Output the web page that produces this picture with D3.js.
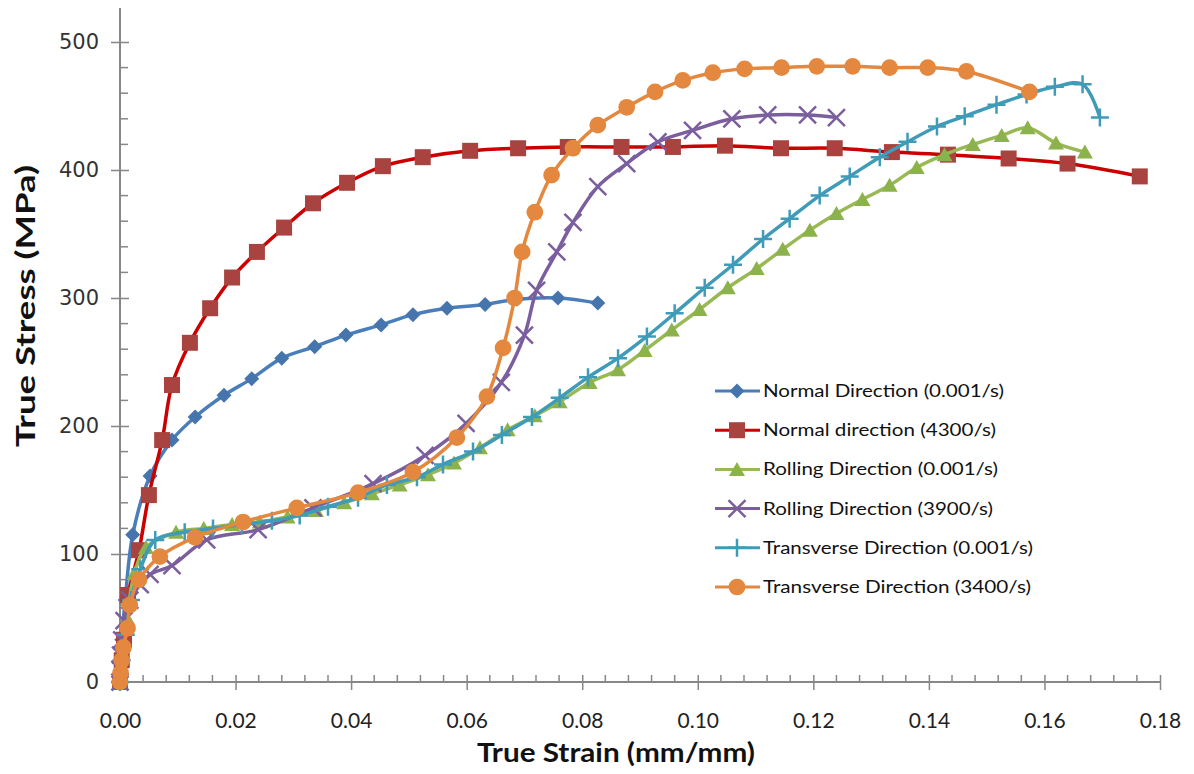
<!DOCTYPE html>
<html>
<head>
<meta charset="utf-8">
<script src="https://cdn.jsdelivr.net/npm/d3@7"></script>
<style>
  body { margin: 0; background: #fff; }
</style>
</head>
<body>
<script>
// strain / stress values
var ndSlowStrain = [0, 0.0003, 0.0009, 0.0022, 0.0052, 0.009, 0.013, 0.018, 0.0228, 0.028, 0.0337, 0.0391, 0.0452, 0.0507, 0.0566, 0.0632, 0.0687, 0.0758, 0.0827];
var ndSlowStress = [0, 33, 64, 115, 161, 189, 207, 224, 237, 253, 262, 271, 279, 287, 292, 295, 299, 300, 296];

var ndFastStrain = [0, 0.0003, 0.0007, 0.0014, 0.0033, 0.005, 0.0073, 0.009, 0.0121, 0.0156, 0.0194, 0.0237, 0.0284, 0.0334, 0.0393, 0.0455, 0.0524, 0.0606, 0.0689, 0.0775, 0.0868, 0.0957, 0.1047, 0.1144, 0.1237, 0.1336, 0.1433, 0.1538, 0.164, 0.1765];
var ndFastStress = [0, 17, 33, 68, 103, 146, 189, 232, 265, 292, 316, 336, 355, 374, 390, 403, 410, 415, 417, 418, 418, 418, 419, 417, 417, 414, 412, 409, 405, 395];

var rdSlowStrain = [0, 0.0004, 0.0012, 0.0025, 0.0045, 0.0097, 0.0145, 0.0194, 0.0242, 0.029, 0.0339, 0.0388, 0.0436, 0.0484, 0.0533, 0.0578, 0.0623, 0.0671, 0.0718, 0.0761, 0.0813, 0.0862, 0.0908, 0.0955, 0.1003, 0.1052, 0.1102, 0.1147, 0.1194, 0.124, 0.1285, 0.1332, 0.1379, 0.1427, 0.1476, 0.1526, 0.1571, 0.162, 0.167];
var rdSlowStress = [0, 20, 50, 85, 105, 117, 120, 123, 125, 129, 134, 140, 147, 154, 162, 171, 183, 197, 208, 219, 234, 244, 259, 275, 291, 308, 323, 338, 353, 366, 377, 388, 402, 412, 420, 427, 433, 421, 414];

var rdFastStrain = [0, 0.0000, 0.0001, 0.0003, 0.0007, 0.0017, 0.0035, 0.0052, 0.009, 0.015, 0.0239, 0.0334, 0.0438, 0.0528, 0.0599, 0.066, 0.07, 0.0721, 0.0756, 0.0784, 0.0827, 0.0877, 0.0931, 0.0991, 0.1059, 0.1121, 0.119, 0.124];
var rdFastStress = [0, 10, 21, 33, 48, 64, 76, 84, 91, 111, 119, 136, 155, 177, 202, 234, 271, 306, 336, 359, 387, 405, 422, 431, 440, 443, 443, 441];

var tdSlowStrain = [0, 0.0003, 0.001, 0.0019, 0.0035, 0.0061, 0.0112, 0.0161, 0.0211, 0.0263, 0.0311, 0.036, 0.0412, 0.0462, 0.0514, 0.0559, 0.0611, 0.0661, 0.0713, 0.0761, 0.081, 0.0862, 0.0912, 0.096, 0.1012, 0.1061, 0.1113, 0.1159, 0.1211, 0.1263, 0.1315, 0.1363, 0.1414, 0.1462, 0.1517, 0.1569, 0.1618, 0.1666, 0.1696];
var tdSlowStress = [0, 17, 37, 64, 88, 111, 117, 120, 123, 126, 130, 137, 144, 154, 160, 170, 180, 193, 207, 222, 238, 253, 270, 288, 308, 326, 346, 362, 380, 395, 410, 422, 434, 442, 451, 459, 465, 467, 441];

var tdFastStrain = [0, 0.0001, 0.0003, 0.0006, 0.0013, 0.0017, 0.0033, 0.0069, 0.013, 0.0213, 0.0306, 0.0412, 0.0507, 0.0583, 0.0635, 0.0663, 0.0683, 0.0696, 0.0718, 0.0747, 0.0784, 0.0827, 0.0877, 0.0926, 0.0974, 0.1026, 0.1081, 0.1145, 0.1206, 0.1268, 0.1332, 0.1398, 0.1465, 0.1574];
var tdFastStress = [0, 7, 17, 27, 42, 60, 80, 98, 113, 125, 136, 148, 164, 191, 223, 261, 300, 336, 367, 396, 417, 435, 449, 461, 470, 476, 479, 480, 481, 481, 480, 480, 477, 461];

var seriesNames = ["Normal Direction (0.001/s)", "Normal direction (4300/s)", "Rolling Direction (0.001/s)",
                   "Rolling Direction (3900/s)", "Transverse Direction (0.001/s)", "Transverse Direction (3400/s)"];
var xTicks = [0, 0.02, 0.04, 0.06, 0.08, 0.10, 0.12, 0.14, 0.16, 0.18];
var yTicks = [0, 100, 200, 300, 400, 500];

var series = [
  { name: seriesNames[0], x: ndSlowStrain, y: ndSlowStress, line: "#4a7ebb", mark: "#4675ad", shape: "diamond" },
  { name: seriesNames[1], x: ndFastStrain, y: ndFastStress, line: "#cc0000", mark: "#a8433f", shape: "square" },
  { name: seriesNames[2], x: rdSlowStrain, y: rdSlowStress, line: "#98b954", mark: "#8cb24b", shape: "triangle" },
  { name: seriesNames[3], x: rdFastStrain, y: rdFastStress, line: "#7b5e9e", mark: "#7b5e9e", shape: "x" },
  { name: seriesNames[4], x: tdSlowStrain, y: tdSlowStress, line: "#3f9bb8", mark: "#3f9bb8", shape: "plus" },
  { name: seriesNames[5], x: tdFastStrain, y: tdFastStress, line: "#e3883e", mark: "#e3883e", shape: "circle" }
];

var width = 1194;
var height = 774;

var x = d3.scaleLinear().domain([0, 0.18]).range([120, 1160]);
var y = d3.scaleLinear().domain([0, 500]).range([682, 42]);

var svg = d3.select("body").append("svg")
    .attr("width", width)
    .attr("height", height);

svg.append("rect").attr("width", width).attr("height", height).attr("fill", "#fff");

var axisColor = "#878787";

// minor ticks
var xMinor = d3.range(0, 0.1801, 0.004).filter(function(v) { return Math.abs(v / 0.02 - Math.round(v / 0.02)) > 1e-6; });
var yMinor = d3.range(0, 501, 20).filter(function(v) { return v % 100 != 0; });

var gx = svg.append("g").attr("transform", "translate(0,682)")
    .call(d3.axisBottom(x).tickValues(xTicks).tickSize(8).tickPadding(23).tickFormat(d3.format(".2f")));
gx.selectAll("line").attr("y1", -7).attr("stroke", axisColor).attr("stroke-width", 1.5);
gx.select(".domain").attr("stroke", axisColor).attr("stroke-width", 2).attr("d", "M120,0H1160");
gx.selectAll("text")
    .attr("fill", "#222")
    .style("font-family", "Lato, 'Open Sans', sans-serif")
    .style("font-size", "21px");

svg.append("g").selectAll("line").data(xMinor).enter().append("line")
    .attr("x1", function(d) { return x(d); }).attr("x2", function(d) { return x(d); })
    .attr("y1", 682).attr("y2", 675)
    .attr("stroke", axisColor).attr("stroke-width", 1.5);

var gy = svg.append("g").attr("transform", "translate(120,0)")
    .call(d3.axisLeft(y).tickValues(yTicks).tickSize(9).tickPadding(12));
gy.selectAll("line").attr("x1", 9).attr("stroke", axisColor).attr("stroke-width", 1.5);
gy.select(".domain").attr("stroke", axisColor).attr("stroke-width", 2).attr("d", "M0,8V682");
gy.selectAll("text")
    .attr("fill", "#333")
    .style("font-family", "'DejaVu Sans', Verdana, sans-serif")
    .style("font-size", "21px");

svg.append("g").selectAll("line").data(yMinor).enter().append("line")
    .attr("x1", 120).attr("x2", 128)
    .attr("y1", function(d) { return y(d); }).attr("y2", function(d) { return y(d); })
    .attr("stroke", axisColor).attr("stroke-width", 1.5);

// axis titles
svg.append("text")
    .attr("transform", "translate(35,306) rotate(-90)")
    .attr("text-anchor", "middle")
    .attr("textLength", 282).attr("lengthAdjust", "spacingAndGlyphs")
    .style("font-family", "Lato, 'Open Sans', sans-serif")
    .style("font-weight", "bold").style("font-size", "27px")
    .attr("fill", "#111")
    .text("True Stress (MPa)");

svg.append("text")
    .attr("x", 616).attr("y", 762)
    .attr("text-anchor", "middle")
    .attr("textLength", 278).attr("lengthAdjust", "spacingAndGlyphs")
    .style("font-family", "Lato, 'Open Sans', sans-serif")
    .style("font-weight", "bold").style("font-size", "27px")
    .attr("fill", "#111")
    .text("True Strain (mm/mm)");

function markerPath(shape) {
  if (shape == "diamond") return "M0,-7.5L7.5,0L0,7.5L-7.5,0Z";
  if (shape == "square") return "M-8,-8H8V8H-8Z";
  if (shape == "triangle") return "M0,-7.5L8,6.5H-8Z";
  if (shape == "x") return "M-8.5,-8.5L8.5,8.5M-8.5,8.5L8.5,-8.5";
  if (shape == "plus") return "M-9,0H9M0,-9V9";
  return d3.symbol(d3.symbolCircle, 220)();
}
function isStroked(shape) { return shape == "x" || shape == "plus"; }

var line = d3.line()
    .x(function(d) { return x(d[0]); })
    .y(function(d) { return y(d[1]); })
    .curve(d3.curveCatmullRom.alpha(0.5));

series.forEach(function(s) {
  var pts = s.x.map(function(v, i) { return [v, s.y[i]]; });
  var g = svg.append("g");
  g.append("path")
      .attr("d", line(pts))
      .attr("fill", "none")
      .attr("stroke", s.line)
      .attr("stroke-width", 3.5)
      .attr("stroke-linejoin", "round");
  g.selectAll("path.mark").data(pts).enter().append("path")
      .attr("class", "mark")
      .attr("transform", function(d) { return "translate(" + x(d[0]) + "," + y(d[1]) + ")"; })
      .attr("d", markerPath(s.shape))
      .attr("fill", isStroked(s.shape) ? "none" : s.mark)
      .attr("stroke", isStroked(s.shape) ? s.mark : "none")
      .attr("stroke-width", 2.5);
});

// legend
var legendLengths = [241, 233, 235, 230, 270, 268];
var legend = svg.append("g").selectAll("g").data(series).enter().append("g")
    .attr("transform", function(d, i) { return "translate(715," + (391 + i * 39.2) + ")"; });
legend.append("line")
    .attr("x1", 0).attr("x2", 45)
    .attr("stroke", function(d) { return d.line; })
    .attr("stroke-width", 3);
legend.append("path")
    .attr("transform", "translate(22,0)")
    .attr("d", function(d) { return markerPath(d.shape); })
    .attr("fill", function(d) { return isStroked(d.shape) ? "none" : d.mark; })
    .attr("stroke", function(d) { return isStroked(d.shape) ? d.mark : "none"; })
    .attr("stroke-width", 2.5);
legend.append("text")
    .attr("x", 48).attr("y", 6)
    .attr("textLength", function(d, i) { return legendLengths[i]; })
    .attr("lengthAdjust", "spacingAndGlyphs")
    .style("font-family", "Lato, 'Open Sans', sans-serif")
    .style("font-size", "18px")
    .attr("fill", "#111")
    .text(function(d) { return d.name; });
</script>
</body>
</html>
